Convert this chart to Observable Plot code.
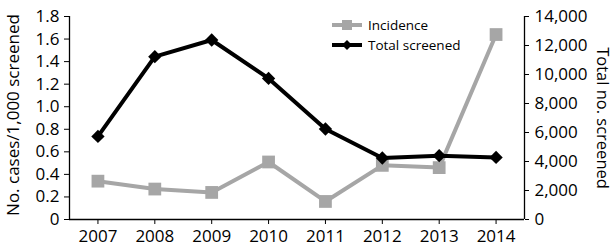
<!DOCTYPE html>
<html><head><meta charset="utf-8">
<script src="https://cdn.jsdelivr.net/npm/d3@7"></script>
<script src="https://cdn.jsdelivr.net/npm/@observablehq/plot@0.6"></script>
<style>
body{margin:0;background:#fff}
#wrap{position:relative;width:615px;height:250px}
.legend{position:absolute;left:330px;top:15px;font:13.5px "Open Sans",sans-serif;color:#000;line-height:20px}
.legend div{display:flex;align-items:center;height:20px}
.legend svg{margin-right:4px}
</style></head><body><div id="wrap"></div>
<script>
const years = [2007, 2008, 2009, 2010, 2011, 2012, 2013, 2014];
const incidence = [0.34, 0.27, 0.24, 0.51, 0.16, 0.48, 0.46, 1.64];
const screened = [5730, 11230, 12380, 9730, 6240, 4240, 4400, 4280];
const leftTicks = [0, 0.2, 0.4, 0.6, 0.8, 1.0, 1.2, 1.4, 1.6, 1.8];
const rightTicks = [0, 2000, 4000, 6000, 8000, 10000, 12000, 14000];
const seriesNames = ["Incidence", "Total screened"];
const leftLabel = "No. cases/1,000 screened";
const rightLabel = "Total no. screened";
const leftMax = 1.8, rightMax = 14000;

const grey = "#a6a6a6";
const toLeft = v => v * leftMax / rightMax;
const incData = years.map((y, i) => ({year: y, v: incidence[i]}));
const scrData = years.map((y, i) => ({year: y, v: toLeft(screened[i])}));
const xDomain = [d3.min(years) - 0.5, d3.max(years) + 0.5];

const chart = Plot.plot({
  width: 615, height: 250,
  marginLeft: 69, marginRight: 91, marginTop: 16, marginBottom: 31,
  style: {fontFamily: "'Open Sans', sans-serif", fontSize: "17px", color: "#000", background: "#fff", overflow: "visible"},
  x: {domain: xDomain, axis: null},
  y: {domain: [0, leftMax], axis: null},
  marks: [
    Plot.axisX({ticks: years, tickFormat: d => String(d), tickSize: 5, tickPadding: 5, fontSize: 17, label: null, strokeOpacity: 1}),
    Plot.axisY({anchor: "left", ticks: leftTicks, tickFormat: d => d === 0 ? "0" : d.toFixed(1), tickSize: 5, tickPadding: 5,
      label: null, fontSize: 17, strokeOpacity: 1}),
    Plot.axisY({anchor: "right", ticks: rightTicks.map(toLeft), tickFormat: d => d3.format(",")(Math.round(d * rightMax / leftMax)), tickSize: 4, tickPadding: 6,
      label: null, fontSize: 17, strokeOpacity: 1}),
    Plot.text([leftLabel], {frameAnchor: "left", textAnchor: "middle", rotate: -90, dx: -56, dy: -3, fontSize: 17, fill: "#000"}),
    Plot.text([rightLabel], {frameAnchor: "right", textAnchor: "middle", rotate: 90, dx: 78, fontSize: 16.5, fill: "#000"}),
    Plot.ruleX(xDomain, {stroke: "#000", strokeWidth: 1.3}),
    Plot.ruleY([0], {stroke: "#000", strokeWidth: 1.3}),
    Plot.line(incData, {x: "year", y: "v", stroke: grey, strokeWidth: 4}),
    Plot.dot(incData, {x: "year", y: "v", symbol: "square", r: 7.2, fill: grey, stroke: "none"}),
    Plot.line(scrData, {x: "year", y: "v", stroke: "#000", strokeWidth: 4}),
    Plot.dot(scrData, {x: "year", y: "v", symbol: "diamond2", r: 6, fill: "#000", stroke: "none"})
  ]
});
const wrap = document.getElementById("wrap");
wrap.appendChild(chart);

const legend = document.createElement("div");
legend.className = "legend";
const sw = (color, sym) => `<svg width="34" height="14"><line x1="2" x2="32" y1="7" y2="7" stroke="${color}" stroke-width="4"/>` +
  (sym === "sq" ? `<rect x="12" y="2" width="10" height="10" fill="${color}"/>` : `<path d="M17,2L22,7L17,12L12,7Z" fill="${color}"/>`) + `</svg>`;
legend.innerHTML = `<div>${sw(grey, "sq")}<span>${seriesNames[0]}</span></div><div>${sw("#000", "di")}<span>${seriesNames[1]}</span></div>`;
wrap.appendChild(legend);
</script>
</body></html>
